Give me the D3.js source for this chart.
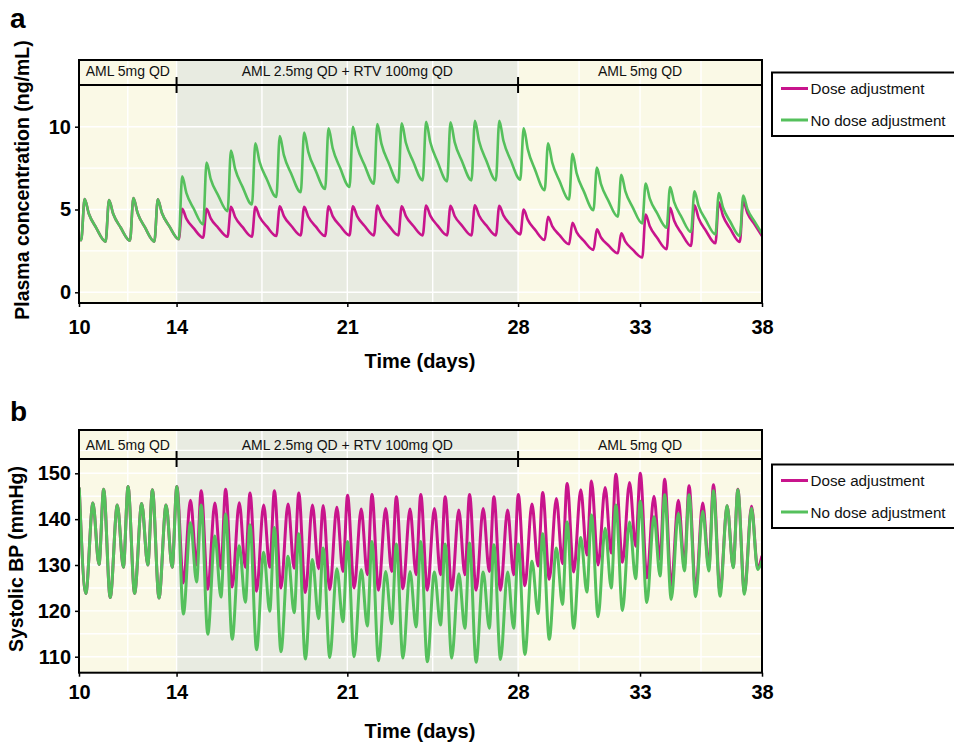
<!DOCTYPE html>
<html>
<head>
<meta charset="utf-8">
<script src="https://cdn.jsdelivr.net/npm/d3@7"></script>
<style>
  html, body { margin: 0; padding: 0; background: #ffffff; }
  svg { display: block; }
  text { font-family: "Liberation Sans", Arial, Helvetica, sans-serif; }
</style>
</head>
<body>
<div id="chart"></div>
<script>
// ---------------- DATA ----------------
const days = [10,11,12,13,14,15,16,17,18,19,20,21,22,23,24,25,26,27,28,29,30,31,32,33,34,35,36,37];
const xTicks = [10,14,21,28,33,38];
const xMinorGrid = [12,17.5,24.5,30.5,35.5];
const phases = [
  {label: "AML 5mg QD", from: 10, to: 14, kind: "mono"},
  {label: "AML 2.5mg QD + RTV 100mg QD", from: 14, to: 28, kind: "combo"},
  {label: "AML 5mg QD", from: 28, to: 38, kind: "mono"}
];
const seriesNames = ["Dose adjustment", "No dose adjustment"];

// Panel a: plasma concentration (ng/mL), per daily dose: trough before dose, peak, two decay readings
const pkTicks = [0,5,10];
const pkGrid = [0,2.5,5,7.5,10,12.5];
const pkStart = 3.2;
const pkAdjTrough  = [3.15,3.06,3.12,3.06,3.2,3.3,3.36,3.36,3.4,3.44,3.4,3.44,3.44,3.44,3.44,3.44,3.44,3.44,3.5,3.16,2.9,2.56,2.36,2.1,2.6,2.8,2.96,3.04];
const pkAdjPeak    = [5.63,5.57,5.69,5.61,5.04,5.04,5.16,5.16,5.2,5.16,5.2,5.2,5.24,5.2,5.24,5.22,5.26,5.22,5.0,4.56,4.2,3.8,3.56,4.7,5.1,5.26,5.44,5.5];
const pkAdjDecayA  = [4.76,4.74,4.80,4.79,4.45,4.47,4.55,4.56,4.60,4.56,4.60,4.60,4.63,4.60,4.63,4.61,4.64,4.64,4.37,4.0,3.64,3.31,3.06,3.99,4.32,4.48,4.62,4.79];
const pkAdjDecayB  = [3.91,3.93,3.93,4.00,3.87,3.91,3.95,3.98,4.02,3.98,4.02,4.02,4.03,4.02,4.03,4.03,4.04,4.07,3.77,3.45,3.10,2.84,2.58,3.29,3.56,3.72,3.83,4.09];
const pkAdjEnd = 3.4;
const pkNoAdjTrough = [3.15,3.06,3.12,3.06,3.2,4.1,4.9,5.3,5.76,6.04,6.24,6.36,6.56,6.64,6.76,6.7,6.76,6.76,6.8,6.16,5.6,4.96,4.56,4.16,3.9,3.64,3.5,3.4];
const pkNoAdjPeak   = [5.63,5.57,5.69,5.61,7.0,7.84,8.56,9.0,9.44,9.64,9.9,10.0,10.16,10.2,10.3,10.26,10.36,10.36,9.9,9.0,8.36,7.54,7.1,6.56,6.36,6.1,6.0,5.84];
const pkNoAdjDecayA = [4.76,4.74,4.80,4.79,6.01,6.84,7.45,7.90,8.28,8.48,8.70,8.83,8.96,9.03,9.08,9.07,9.14,9.15,8.63,7.84,7.20,6.53,6.10,5.66,5.44,5.22,5.12,5.04];
const pkNoAdjDecayB = [3.91,3.93,3.93,4.00,5.06,5.87,6.38,6.83,7.16,7.36,7.53,7.70,7.80,7.90,7.89,7.92,7.95,7.97,7.39,6.72,6.08,5.54,5.13,4.78,4.54,4.36,4.26,4.27];
const pkNoAdjEnd = 3.55;
// time of each reading within the day
const pkOffsets = {trough: 0.09, peak: 0.23, decayA: 0.40, decayB: 0.70};

// Panel b: systolic BP (mmHg), per day: high peak, deep trough, second peak, shallow trough
const bpTicks = [110,120,130,140,150];
const bpGrid = [110,115,120,125,130,135,140,145,150,155];
const bpAdjHigh   = [146.9,146.5,147.1,146.4,147.1,146.2,146.5,145.7,146.2,145.7,143.0,145.2,145.4,144.9,145.4,144.9,145.4,144.9,145.4,145.8,147.8,148.3,149.8,150.0,148.7,147.3,147.5,146.5];
const bpAdjLow    = [123.8,122.9,123.8,122.8,126.1,124.7,125.2,124.3,125.0,124.0,124.6,125.0,124.5,124.8,124.5,124.5,124.5,124.5,125.5,126.9,128.5,130.0,130.6,127.2,125.5,124.5,124.2,124.0];
const bpAdjMid    = [143.5,143.1,143.4,143.1,144.1,143.5,143.6,143.1,143.3,143.1,142.6,142.2,142.3,142.2,142.3,142.0,142.3,142.0,143.3,144.5,146.4,146.9,148.0,145.0,144.1,143.5,142.9,142.8];
const bpAdjMidLow = [130.1,129.5,130.0,129.5,130.0,129.2,129.5,129.5,129.3,129.2,128.6,127.9,128.6,127.9,127.9,127.9,128.6,127.9,129.8,130.3,132.2,132.6,134.1,131.2,130.0,129.5,129.6,129.4];
const bpAdjEnd = 132;
const bpNoAdjHigh   = [146.9,146.5,147.1,146.4,147.1,143.1,141.1,138.8,138.2,136.8,133.7,135.1,135.1,134.6,135.1,134.6,134.8,134.4,134.6,136.8,139.4,140.9,143.1,143.9,145.3,145.3,146.2,146.4];
const bpNoAdjLow    = [123.8,122.9,123.8,122.8,119.3,114.9,113.8,111.5,111.1,109.5,109.8,110.0,109.1,109.7,108.9,109.7,108.8,109.4,110.5,113.8,116.2,118.7,120.1,121.8,122.5,123.1,123.2,123.6];
const bpNoAdjMid    = [143.5,143.1,143.4,143.1,139.2,136.3,134.2,132.8,131.9,131.2,129.2,129.0,128.6,128.6,128.5,128.1,128.5,128.5,130.8,133.7,136.0,138.0,139.4,140.6,141.3,141.7,142.9,142.4];
const bpNoAdjMidLow = [130.1,129.5,130.0,129.5,126.3,123.0,121.9,119.9,119.6,118.3,117.6,116.7,117.2,116.5,116.9,116.2,116.2,116.2,119.4,121.4,124.1,125.0,127.0,127.6,128.7,128.7,129.4,129.0];
const bpNoAdjEnd = 131;
const bpOffsets = {high: 0.01, low: 0.28, mid: 0.57, midLow: 0.82};

// ---------------- STYLE ----------------
const W = 954, H = 742;
const colAdj = "#C8148C", colNoAdj = "#55C05C";
const bgMono = "#FAF9E6", bgCombo = "#E8EBE1";
const FONT = '"Liberation Sans", Arial, Helvetica, sans-serif';

const svg = d3.select("#chart").append("svg").attr("width", W).attr("height", H);

function pkSeries(trough, peak, decA, decB, endVal) {
  const pts = [[10, pkStart]];
  days.forEach((d, i) => {
    pts.push([d + pkOffsets.trough, trough[i]]);
    pts.push([d + pkOffsets.peak, peak[i]]);
    pts.push([d + pkOffsets.decayA, decA[i]]);
    pts.push([d + pkOffsets.decayB, decB[i]]);
  });
  pts.push([38, endVal]);
  return pts;
}
function bpSeries(hi, lo, mid, midLo, endVal) {
  const pts = [];
  days.forEach((d, i) => {
    pts.push([d + bpOffsets.high, hi[i]]);
    pts.push([d + bpOffsets.low, lo[i]]);
    pts.push([d + bpOffsets.mid, mid[i]]);
    pts.push([d + bpOffsets.midLow, midLo[i]]);
  });
  pts.push([38, endVal]);
  return pts;
}

function panel(cfg) {
  const g = svg.append("g");
  const x = d3.scaleLinear().domain([10, 38]).range([79, 762]);
  const y = d3.scaleLinear().domain(cfg.yDomain).range(cfg.yRange);
  const top = cfg.top, bottom = cfg.bottom, left = 79, right = 762;

  const clipId = "clip" + cfg.id;
  g.append("clipPath").attr("id", clipId).append("rect")
    .attr("x", left).attr("y", top).attr("width", right - left).attr("height", bottom - top);

  // phase backgrounds
  g.selectAll(".bg").data(phases).enter().append("rect")
    .attr("x", d => x(d.from)).attr("y", top)
    .attr("width", d => x(d.to) - x(d.from)).attr("height", bottom - top)
    .attr("fill", d => d.kind === "mono" ? bgMono : bgCombo);

  // gridlines
  const grid = g.append("g").attr("clip-path", `url(#${clipId})`);
  grid.selectAll(".hg").data(cfg.grid).enter().append("line")
    .attr("x1", left).attr("x2", right).attr("y1", d => y(d)).attr("y2", d => y(d))
    .attr("stroke", "#ffffff").attr("stroke-width", 1.4);
  grid.selectAll(".vg").data(xTicks.concat(xMinorGrid)).enter().append("line")
    .attr("x1", d => x(d)).attr("x2", d => x(d)).attr("y1", top).attr("y2", bottom)
    .attr("stroke", "#ffffff").attr("stroke-width", 1.4);

  // lines
  const line = d3.line().x(d => x(d[0])).y(d => y(d[1])).curve(d3.curveMonotoneX);
  const lg = g.append("g").attr("clip-path", `url(#${clipId})`);
  lg.append("path").datum(cfg.adj).attr("d", line).attr("fill", "none")
    .attr("stroke", colAdj).attr("stroke-width", cfg.lw).attr("stroke-linejoin", "round");
  lg.append("path").datum(cfg.noAdj).attr("d", line).attr("fill", "none")
    .attr("stroke", colNoAdj).attr("stroke-width", cfg.lw).attr("stroke-linejoin", "round");

  // header strip line & phase ticks
  g.append("line").attr("x1", left).attr("x2", right).attr("y1", cfg.header).attr("y2", cfg.header)
    .attr("stroke", "#000").attr("stroke-width", 2);
  g.selectAll(".ph").data([14, 28]).enter().append("line")
    .attr("x1", d => x(d)).attr("x2", d => x(d))
    .attr("y1", cfg.header - 8).attr("y2", cfg.header + 8)
    .attr("stroke", "#000").attr("stroke-width", 2);
  g.selectAll(".phl").data(phases).enter().append("text")
    .attr("x", d => (x(d.from) + x(d.to)) / 2).attr("y", cfg.header - 9)
    .attr("text-anchor", "middle").attr("font-size", 14).attr("fill", "#111")
    .text(d => d.label);

  // box
  g.append("rect").attr("x", left).attr("y", top).attr("width", right - left).attr("height", bottom - top)
    .attr("fill", "none").attr("stroke", "#000").attr("stroke-width", 2);

  // axes
  const xa = g.append("g").attr("transform", `translate(0,${bottom})`)
    .call(d3.axisBottom(x).tickValues(xTicks).tickFormat(d3.format("d")).tickSize(4).tickPadding(cfg.xPad));
  xa.select(".domain").remove();
  xa.selectAll("line").attr("stroke", "#000").attr("stroke-width", 1.5);
  xa.selectAll("text").attr("font-size", 20).attr("font-weight", "bold").attr("fill", "#000")
    .attr("font-family", FONT);

  const ya = g.append("g").attr("transform", `translate(${left},0)`)
    .call(d3.axisLeft(y).tickValues(cfg.ticks).tickFormat(d3.format("d")).tickSize(4).tickPadding(4));
  ya.select(".domain").remove();
  ya.selectAll("line").attr("stroke", "#000").attr("stroke-width", 1.5);
  ya.selectAll("text").attr("font-size", 20).attr("font-weight", "bold").attr("fill", "#000")
    .attr("font-family", FONT);

  // titles
  g.append("text").attr("x", 420).attr("y", cfg.xTitleY).attr("text-anchor", "middle")
    .attr("font-size", 20).attr("font-weight", "bold").text("Time (days)");
  g.append("text").attr("transform", `translate(${cfg.yTitleX},${cfg.yTitleY}) rotate(-90)`)
    .attr("text-anchor", "middle").attr("font-size", 19.5).attr("font-weight", "bold").text(cfg.yTitle);
  g.append("text").attr("x", 10).attr("y", cfg.letterY).attr("font-size", 28).attr("font-weight", "bold")
    .text(cfg.letter);

  // legend
  const lgd = g.append("g");
  lgd.append("rect").attr("x", 772).attr("y", cfg.legTop).attr("width", 200).attr("height", 63.5)
    .attr("fill", "#fff").attr("stroke", "#000").attr("stroke-width", 2);
  const items = lgd.selectAll(".li").data(seriesNames).enter().append("g")
    .attr("transform", (d, i) => `translate(0,${cfg.legTop + 16 + i * 31.5})`);
  items.append("line").attr("x1", 781).attr("x2", 808).attr("y1", 0).attr("y2", 0)
    .attr("stroke", (d, i) => i === 0 ? colAdj : colNoAdj).attr("stroke-width", 3);
  items.append("text").attr("x", 810.5).attr("y", 5.5).attr("font-size", 15.2).attr("fill", "#111")
    .text(d => d);
}

panel({
  id: "a", letter: "a", letterY: 28,
  top: 60, bottom: 303, header: 85,
  yDomain: [0, 10], yRange: [292.3, 126.7],
  ticks: pkTicks, grid: pkGrid, lw: 2.6,
  adj: pkSeries(pkAdjTrough, pkAdjPeak, pkAdjDecayA, pkAdjDecayB, pkAdjEnd),
  noAdj: pkSeries(pkNoAdjTrough, pkNoAdjPeak, pkNoAdjDecayA, pkNoAdjDecayB, pkNoAdjEnd),
  xPad: 13, xTitleY: 368,
  yTitle: "Plasma concentration (ng/mL)", yTitleX: 29, yTitleY: 180,
  legTop: 72.5
});

panel({
  id: "b", letter: "b", letterY: 420.5,
  top: 430, bottom: 672.7, header: 459,
  yDomain: [110, 150], yRange: [656.7, 473.3],
  ticks: bpTicks, grid: bpGrid, lw: 3,
  adj: bpSeries(bpAdjHigh, bpAdjLow, bpAdjMid, bpAdjMidLow, bpAdjEnd),
  noAdj: bpSeries(bpNoAdjHigh, bpNoAdjLow, bpNoAdjMid, bpNoAdjMidLow, bpNoAdjEnd),
  xPad: 8.5, xTitleY: 737.5,
  yTitle: "Systolic BP (mmHg)", yTitleX: 23, yTitleY: 559,
  legTop: 464.5
});
</script>
</body>
</html>
